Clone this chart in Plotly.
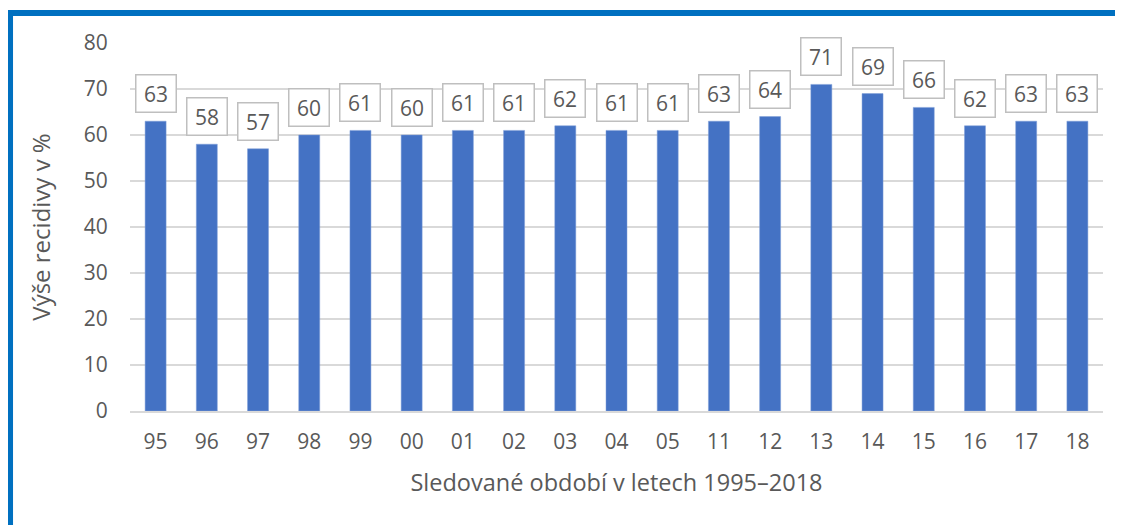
import plotly.graph_objects as go

# Data
roky = ["95", "96", "97", "98", "99", "00", "01", "02", "03", "04",
        "05", "11", "12", "13", "14", "15", "16", "17", "18"]
recidiva = [63, 58, 57, 60, 61, 60, 61, 61, 62, 61,
            61, 63, 64, 71, 69, 66, 62, 63, 63]

FONT = "Open Sans, Calibri, sans-serif"
TEXT = "#595959"

fig = go.Figure()
fig.add_trace(go.Bar(
    x=roky,
    y=recidiva,
    marker=dict(color="#4472C4", line=dict(color="#7F9FD8", width=0.5)),
    hoverinfo="x+y",
))

# data labels in gray boxes above each bar (category index as x position)
for i, v in enumerate(recidiva):
    fig.add_annotation(
        x=i, y=v, text=str(v),
        showarrow=False, yanchor="bottom", yshift=8,
        width=33, height=30,
        font=dict(family=FONT, size=21, color=TEXT),
        bordercolor="#BFBFBF", borderwidth=1.5, borderpad=3,
        bgcolor="white",
    )

# blue frame (top + left edges) around the chart
fig.add_shape(type="line", xref="paper", yref="paper",
              x0=-0.129, x1=1.05, y0=1.0815, y1=1.0815,
              line=dict(color="#0070C0", width=6))
fig.add_shape(type="line", xref="paper", yref="paper",
              x0=-0.1233, x1=-0.1233, y0=1.089, y1=-0.35,
              line=dict(color="#0070C0", width=6))

fig.update_layout(
    width=1123, height=525,
    margin=dict(l=122, r=28, t=35, b=122),
    plot_bgcolor="white", paper_bgcolor="white",
    bargap=0.59,
    showlegend=False,
    font=dict(family=FONT, size=21, color=TEXT),
    xaxis=dict(
        type="category", automargin=False,
        title=dict(text="Sledované období v letech 1995–2018",
                   font=dict(size=23.5, color=TEXT), standoff=20),
        showline=True, linecolor="#D9D9D9", linewidth=2,
        ticks="outside", ticklen=11, tickcolor="rgba(0,0,0,0)",
        tickfont=dict(size=21, color=TEXT),
        showgrid=False,
    ),
    yaxis=dict(
        automargin=False,
        title=dict(text="Výše recidivy v %",
                   font=dict(size=24, color=TEXT), standoff=26),
        range=[0, 80], dtick=10,
        showgrid=True, gridcolor="#D9D9D9", gridwidth=1.5,
        zeroline=False,
        ticks="outside", ticklen=17, tickcolor="rgba(0,0,0,0)",
        tickfont=dict(size=21, color=TEXT),
    ),
)

fig.write_html("out.html")
